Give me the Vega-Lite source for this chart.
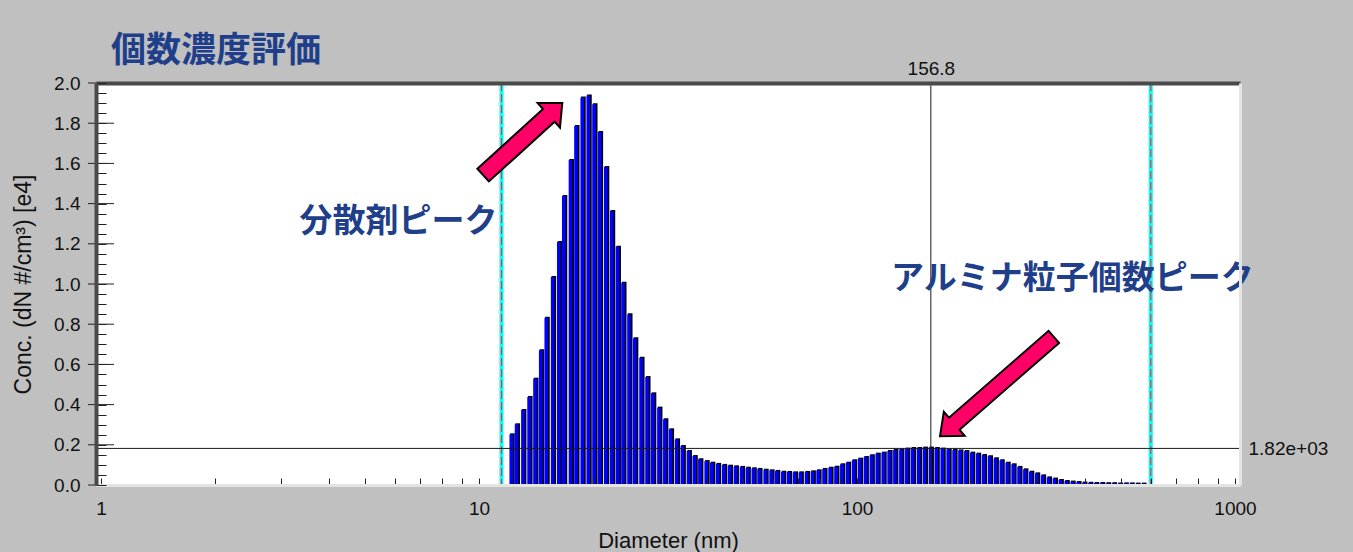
{
  "$schema": "https://vega.github.io/schema/vega-lite/v6.json",
  "width": 1144,
  "height": 402,
  "autosize": {"type": "none"},
  "padding": {"left": 96, "top": 83, "right": 113, "bottom": 67},
  "background": "#c0c0c0",
  "title": {
    "text": "個数濃度評価",
    "anchor": "start",
    "frame": "group",
    "dx": 15,
    "offset": -10,
    "font": "Noto Sans CJK JP",
    "fontSize": 35,
    "fontWeight": "bold",
    "color": "#1f3f8a"
  },
  "config": {
    "view": {"fill": "#ffffff", "stroke": null},
    "axis": {
      "grid": false,
      "labelFont": "Liberation Sans",
      "labelFontSize": 19,
      "labelColor": "#111111",
      "titleFont": "Liberation Sans",
      "titleFontSize": 22,
      "titleFontWeight": "normal",
      "titleColor": "#111111"
    }
  },
  "datasets": {
    "bars": [
      {"diameter": 12.2, "conc": 0.252}, {"diameter": 12.6, "conc": 0.302}, {"diameter": 13.1, "conc": 0.373},
      {"diameter": 13.6, "conc": 0.438}, {"diameter": 14.1, "conc": 0.529}, {"diameter": 14.6, "conc": 0.670},
      {"diameter": 15.1, "conc": 0.832}, {"diameter": 15.7, "conc": 1.035}, {"diameter": 16.3, "conc": 1.209},
      {"diameter": 16.8, "conc": 1.438}, {"diameter": 17.5, "conc": 1.617}, {"diameter": 18.1, "conc": 1.786},
      {"diameter": 18.8, "conc": 1.928}, {"diameter": 19.5, "conc": 1.938}, {"diameter": 20.2, "conc": 1.894},
      {"diameter": 20.9, "conc": 1.756}, {"diameter": 21.7, "conc": 1.582}, {"diameter": 22.5, "conc": 1.363},
      {"diameter": 23.3, "conc": 1.185}, {"diameter": 24.1, "conc": 1.006}, {"diameter": 25.0, "conc": 0.849},
      {"diameter": 25.9, "conc": 0.730}, {"diameter": 26.9, "conc": 0.633}, {"diameter": 27.9, "conc": 0.537},
      {"diameter": 28.9, "conc": 0.456}, {"diameter": 30.0, "conc": 0.385}, {"diameter": 31.1, "conc": 0.327},
      {"diameter": 32.2, "conc": 0.277}, {"diameter": 33.4, "conc": 0.227}, {"diameter": 34.6, "conc": 0.194},
      {"diameter": 35.9, "conc": 0.169}, {"diameter": 37.2, "conc": 0.144}, {"diameter": 38.5, "conc": 0.128},
      {"diameter": 40.0, "conc": 0.119}, {"diameter": 41.4, "conc": 0.111}, {"diameter": 42.9, "conc": 0.105},
      {"diameter": 44.5, "conc": 0.100}, {"diameter": 46.1, "conc": 0.096}, {"diameter": 47.8, "conc": 0.093},
      {"diameter": 49.6, "conc": 0.090}, {"diameter": 51.4, "conc": 0.086}, {"diameter": 53.3, "conc": 0.083},
      {"diameter": 55.2, "conc": 0.080}, {"diameter": 57.3, "conc": 0.076}, {"diameter": 59.4, "conc": 0.073},
      {"diameter": 61.5, "conc": 0.070}, {"diameter": 63.8, "conc": 0.066}, {"diameter": 66.1, "conc": 0.065},
      {"diameter": 68.5, "conc": 0.063}, {"diameter": 71.0, "conc": 0.063}, {"diameter": 73.7, "conc": 0.065},
      {"diameter": 76.4, "conc": 0.068}, {"diameter": 79.1, "conc": 0.073}, {"diameter": 82.0, "conc": 0.080},
      {"diameter": 85.1, "conc": 0.086}, {"diameter": 88.2, "conc": 0.091}, {"diameter": 91.4, "conc": 0.103},
      {"diameter": 94.7, "conc": 0.111}, {"diameter": 98.2, "conc": 0.123}, {"diameter": 101.8, "conc": 0.131},
      {"diameter": 105.5, "conc": 0.139}, {"diameter": 109.4, "conc": 0.148}, {"diameter": 113.4, "conc": 0.156},
      {"diameter": 117.6, "conc": 0.161}, {"diameter": 121.9, "conc": 0.169}, {"diameter": 126.3, "conc": 0.174},
      {"diameter": 131.0, "conc": 0.177}, {"diameter": 135.8, "conc": 0.181}, {"diameter": 140.7, "conc": 0.184},
      {"diameter": 145.9, "conc": 0.184}, {"diameter": 151.2, "conc": 0.186}, {"diameter": 156.8, "conc": 0.186},
      {"diameter": 162.5, "conc": 0.184}, {"diameter": 168.5, "conc": 0.181}, {"diameter": 174.7, "conc": 0.177},
      {"diameter": 181.1, "conc": 0.174}, {"diameter": 187.7, "conc": 0.172}, {"diameter": 194.6, "conc": 0.169},
      {"diameter": 201.7, "conc": 0.161}, {"diameter": 209.1, "conc": 0.156}, {"diameter": 216.7, "conc": 0.149},
      {"diameter": 224.7, "conc": 0.143}, {"diameter": 232.9, "conc": 0.133}, {"diameter": 241.4, "conc": 0.123},
      {"diameter": 250.3, "conc": 0.111}, {"diameter": 259.5, "conc": 0.103}, {"diameter": 269.0, "conc": 0.090},
      {"diameter": 278.8, "conc": 0.078}, {"diameter": 289.0, "conc": 0.066}, {"diameter": 299.6, "conc": 0.058},
      {"diameter": 310.6, "conc": 0.048}, {"diameter": 322.0, "conc": 0.038}, {"diameter": 333.8, "conc": 0.032},
      {"diameter": 346.0, "conc": 0.025}, {"diameter": 358.7, "conc": 0.020}, {"diameter": 371.8, "conc": 0.017},
      {"diameter": 385.4, "conc": 0.015}, {"diameter": 399.5, "conc": 0.012}, {"diameter": 414.2, "conc": 0.011},
      {"diameter": 429.4, "conc": 0.010}, {"diameter": 445.1, "conc": 0.010}, {"diameter": 461.4, "conc": 0.009},
      {"diameter": 478.3, "conc": 0.009}, {"diameter": 495.8, "conc": 0.008}, {"diameter": 514.0, "conc": 0.008},
      {"diameter": 532.8, "conc": 0.008}, {"diameter": 552.3, "conc": 0.007}, {"diameter": 572.5, "conc": 0.007}
    ],
    "cross": [{"d": 156.8, "c": 0.182}],
    "limits": [{"d": 11.47}, {"d": 598.7}],
    "majors": [
      {"x": 1, "y": 0}, {"x": 1, "y": 0.2}, {"x": 1, "y": 0.4}, {"x": 1, "y": 0.6}, {"x": 1, "y": 0.8},
      {"x": 1, "y": 1.0}, {"x": 1, "y": 1.2}, {"x": 1, "y": 1.4}, {"x": 1, "y": 1.6}, {"x": 1, "y": 1.8},
      {"x": 1, "y": 2.0}
    ],
    "notes": [
      {"x": 3.35, "y": 1.31, "label": "分散剤ピーク"},
      {"x": 123.1, "y": 1.027, "label": "アルミナ粒子個数ピーク"}
    ],
    "arrow1": [{"x": 13.05, "y": 1.721}],
    "arrow2": [{"x": 234.5, "y": 0.49}]
  },
  "resolve": {"axis": {"x": "independent", "y": "independent"}},
  "layer": [
    {
      "data": {"name": "limits"},
      "mark": {"type": "rule", "color": "#00ffff", "strokeWidth": 4},
      "encoding": {
        "x": {"field": "d", "type": "quantitative", "scale": {"type": "log", "domain": [1, 1000]}, "axis": null}
      }
    },
    {
      "data": {"name": "limits"},
      "mark": {"type": "rule", "color": "#e0403c", "strokeWidth": 1.2, "strokeDash": [8, 3]},
      "encoding": {
        "x": {"field": "d", "type": "quantitative", "scale": {"type": "log", "domain": [1, 1000]}, "axis": null}
      }
    },
    {
      "data": {"name": "bars"},
      "mark": {"type": "bar", "color": "#000000", "size": 4.6, "xOffset": 0.8, "yOffset": -1},
      "encoding": {
        "x": {
          "field": "diameter", "type": "quantitative",
          "scale": {"type": "log", "domain": [1, 1000]},
          "axis": {
            "orient": "bottom",
            "values": [1, 2, 3, 4, 5, 6, 7, 8, 9, 10, 20, 30, 40, 50, 60, 70, 80, 90, 100, 200, 300, 400, 500, 600, 700, 800, 900, 1000],
            "labelExpr": "(datum.value == 1 || datum.value == 10 || datum.value == 100 || datum.value == 1000) ? datum.value + '' : ''",
            "tickSize": -7, "tickColor": "#222222", "tickWidth": 1,
            "domainColor": "#e4e4e4", "domainWidth": 3,
            "labelPadding": 21, "labelFlush": false, "labelOverlap": false, "labelBound": false,
            "title": "Diameter (nm)", "titlePadding": 12, "zindex": 1
          }
        },
        "y": {
          "field": "conc", "type": "quantitative",
          "scale": {"domain": [0, 2], "nice": false},
          "axis": {
            "orient": "left",
            "values": [0, 0.05, 0.1, 0.15, 0.2, 0.25, 0.3, 0.35, 0.4, 0.45, 0.5, 0.55, 0.6, 0.65, 0.7, 0.75, 0.8, 0.85, 0.9, 0.95, 1, 1.05, 1.1, 1.15, 1.2, 1.25, 1.3, 1.35, 1.4, 1.45, 1.5, 1.55, 1.6, 1.65, 1.7, 1.75, 1.8, 1.85, 1.9, 1.95, 2],
            "labelExpr": "abs(datum.value * 5 - round(datum.value * 5)) < 0.001 ? format(datum.value, '.1f') : ''",
            "tickSize": -10, "tickColor": "#222222", "tickWidth": 1,
            "domainColor": "#4a4a4a", "domainWidth": 4,
            "labelPadding": 26, "labelFlush": false, "labelOverlap": false,
            "title": "Conc. (dN #/cm³) [e4]", "titleFontSize": 23, "titlePadding": 18, "zindex": 1
          }
        }
      }
    },
    {
      "data": {"name": "bars"},
      "mark": {"type": "bar", "color": "#0000ff", "size": 3.6, "xOffset": -0.4},
      "encoding": {
        "x": {"field": "diameter", "type": "quantitative", "scale": {"type": "log", "domain": [1, 1000]}, "axis": null},
        "y": {"field": "conc", "type": "quantitative", "scale": {"domain": [0, 2], "nice": false}, "axis": null}
      }
    },
    {
      "data": {"name": "cross"},
      "mark": {"type": "rule", "color": "#1a1a1a", "strokeWidth": 1},
      "encoding": {
        "x": {
          "field": "d", "type": "quantitative",
          "scale": {"type": "log", "domain": [1, 1000]},
          "axis": {
            "orient": "top", "values": [156.8], "labelExpr": "'156.8'",
            "ticks": false, "domainColor": "#4a4a4a", "domainWidth": 4,
            "labelPadding": 5, "labelFlush": false, "title": null, "zindex": 1
          }
        }
      }
    },
    {
      "data": {"name": "cross"},
      "mark": {"type": "rule", "color": "#1a1a1a", "strokeWidth": 1},
      "encoding": {
        "y": {
          "field": "c", "type": "quantitative",
          "scale": {"domain": [0, 2], "nice": false},
          "axis": {
            "orient": "right", "values": [0.182], "labelExpr": "'1.82e+03'",
            "ticks": false, "domainColor": "#e4e4e4", "domainWidth": 3,
            "labelPadding": 8, "labelFlush": false, "title": null, "zindex": 1
          }
        }
      }
    },
    {
      "data": {"name": "majors"},
      "mark": {"type": "tick", "orient": "horizontal", "size": 26, "thickness": 1, "color": "#222222", "opacity": 1},
      "encoding": {
        "x": {"field": "x", "type": "quantitative", "scale": {"type": "log", "domain": [1, 1000]}, "axis": null},
        "y": {"field": "y", "type": "quantitative", "scale": {"domain": [0, 2], "nice": false}, "axis": null}
      }
    },
    {
      "data": {"name": "arrow1"},
      "mark": {
        "type": "point", "filled": true, "fill": "#ff0066", "stroke": "#000000", "strokeWidth": 2, "opacity": 1,
        "shape": "M-1,-0.16L0.66,-0.16L0.66,-0.31L1,0L0.66,0.31L0.66,0.16L-1,0.16Z",
        "size": 11449, "angle": -42.3
      },
      "encoding": {
        "x": {"field": "x", "type": "quantitative", "scale": {"type": "log", "domain": [1, 1000]}, "axis": null},
        "y": {"field": "y", "type": "quantitative", "scale": {"domain": [0, 2], "nice": false}, "axis": null}
      }
    },
    {
      "data": {"name": "arrow2"},
      "mark": {
        "type": "point", "filled": true, "fill": "#ff0066", "stroke": "#000000", "strokeWidth": 2, "opacity": 1,
        "shape": "M-1,-0.106L0.75,-0.106L0.75,-0.21L1,0L0.75,0.21L0.75,0.106L-1,0.106Z",
        "size": 22801, "angle": 138.9
      },
      "encoding": {
        "x": {"field": "x", "type": "quantitative", "scale": {"type": "log", "domain": [1, 1000]}, "axis": null},
        "y": {"field": "y", "type": "quantitative", "scale": {"domain": [0, 2], "nice": false}, "axis": null}
      }
    },
    {
      "data": {"name": "notes"},
      "mark": {
        "type": "text", "align": "left", "baseline": "middle",
        "font": "Noto Sans CJK JP", "fontSize": 33, "fontWeight": "bold", "color": "#1f3f8a"
      },
      "encoding": {
        "x": {"field": "x", "type": "quantitative", "scale": {"type": "log", "domain": [1, 1000]}, "axis": null},
        "y": {"field": "y", "type": "quantitative", "scale": {"domain": [0, 2], "nice": false}, "axis": null},
        "text": {"field": "label", "type": "nominal"}
      }
    }
  ]
}
